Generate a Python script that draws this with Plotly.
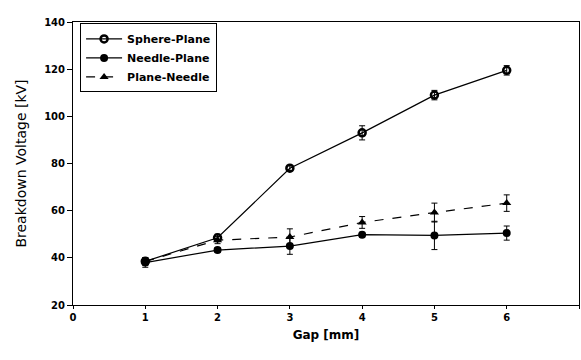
import plotly.graph_objects as go

gap = [1, 2, 3, 4, 5, 6]
sphere_plane = [38.5, 48.5, 78, 93, 109, 119.5]
sphere_plane_err = [1.5, 1.5, 1, 3, 2, 2]
needle_plane = [38, 43.3, 45, 49.8, 49.5, 50.5]
needle_plane_err = [2, 1, 3.5, 1, 6, 3]
plane_needle = [38.5, 47.5, 48.8, 55, 59.2, 63.2]
plane_needle_err = [1.5, 1.5, 3.5, 2.5, 4, 3.5]

x_ticks = [0, 1, 2, 3, 4, 5, 6, 7]
y_ticks = [20, 40, 60, 80, 100, 120, 140]

font = "DejaVu Sans, Liberation Sans, Arial, sans-serif"

fig = go.Figure()
fig.add_trace(go.Scatter(
    x=gap, y=sphere_plane, name="Sphere-Plane", mode="lines+markers",
    line=dict(color="black", width=1.2),
    marker=dict(symbol="circle-open", size=7, color="black", line=dict(width=2.5, color="black")),
    error_y=dict(type="data", array=sphere_plane_err, color="black", thickness=1, width=3),
))
fig.add_trace(go.Scatter(
    x=gap, y=needle_plane, name="Needle-Plane", mode="lines+markers",
    line=dict(color="black", width=1.2),
    marker=dict(symbol="circle", size=8, color="black"),
    error_y=dict(type="data", array=needle_plane_err, color="black", thickness=1, width=3),
))
fig.add_trace(go.Scatter(
    x=gap, y=plane_needle, name="Plane-Needle", mode="lines+markers",
    line=dict(color="black", width=1.2, dash="dash"),
    marker=dict(symbol="triangle-up", size=8, color="black"),
    error_y=dict(type="data", array=plane_needle_err, color="black", thickness=1, width=3),
))

fig.update_layout(
    width=581, height=360,
    margin=dict(l=73, r=2, t=22, b=55),
    paper_bgcolor="white", plot_bgcolor="white",
    font=dict(family=font, color="black", size=10),
    showlegend=True,
    legend=dict(
        x=0.014, y=0.995, xanchor="left", yanchor="top",
        bordercolor="black", borderwidth=1, bgcolor="white",
        font=dict(family=font, size=11, color="black", weight="bold"),
        tracegroupgap=0, itemwidth=36,
    ),
    xaxis=dict(
        range=[0, 7], tickvals=x_ticks, ticktext=[str(v) for v in x_ticks],
        showgrid=False, zeroline=False, showline=True, linecolor="black", linewidth=1,
        mirror=True, ticks="outside", ticklen=3, tickcolor="black",
        tickfont=dict(family=font, size=10, weight="bold"),
        title=dict(text="Gap [mm]", font=dict(family=font, size=12, weight="bold"), standoff=8),
    ),
    yaxis=dict(
        range=[20, 140], tickvals=y_ticks, ticktext=[str(v) for v in y_ticks],
        showgrid=False, zeroline=False, showline=True, linecolor="black", linewidth=1,
        mirror=True, ticks="outside", ticklen=5, tickcolor="black",
        tickfont=dict(family=font, size=10, weight="bold"),
        title=dict(text="Breakdown Voltage [kV]", font=dict(family=font, size=14), standoff=14),
    ),
)

fig.write_html(
    "out.html",
    config={"displayModeBar": False},
    post_script="document.body.style.margin='0';document.body.style.overflow='hidden';",
)
